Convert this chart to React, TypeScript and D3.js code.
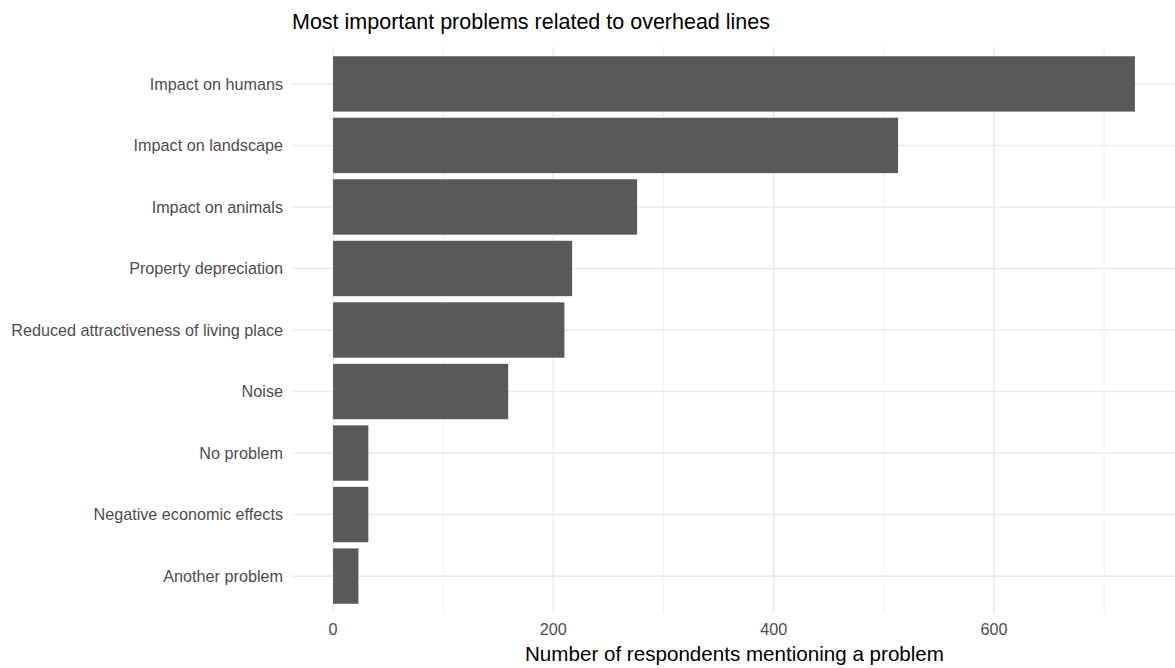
import React from "react";
import * as d3 from "d3";

const categories = [
  "Impact on humans",
  "Impact on landscape",
  "Impact on animals",
  "Property depreciation",
  "Reduced attractiveness of living place",
  "Noise",
  "No problem",
  "Negative economic effects",
  "Another problem",
];
const counts = [728, 513, 276, 217, 210, 159, 32, 32, 23];
const majorTicks = [0, 200, 400, 600];
const minorTicks = [100, 300, 500, 700];
const title = "Most important problems related to overhead lines";
const xTitle = "Number of respondents mentioning a problem";

const W = 1175;
const H = 668;
const panel = { left: 293, right: 1175, top: 47, bottom: 613 };
const FONT = "'Liberation Sans', Arial, sans-serif";

export default function App() {
  const maxV = d3.max(counts) as number;
  const pad = maxV * 0.05;
  const x = d3.scaleLinear().domain([-pad, maxV + pad]).range([panel.left, panel.right]);
  const n = categories.length;
  const step = (panel.bottom - panel.top) / (n - 1 + 1.2);
  const yc = (i: number) => panel.top + step * (0.6 + i);
  const barH = step * 0.9;

  return (
    <svg width={W} height={H} style={{ position: "absolute", left: 0, top: 0, background: "#fff" }} fontFamily={FONT}>
      <rect x={0} y={0} width={W} height={H} fill="#fff" />
      {minorTicks.map((t) => (
        <line key={"mi" + t} x1={x(t)} x2={x(t)} y1={panel.top} y2={panel.bottom} stroke="#f0f0f0" strokeWidth={1} />
      ))}
      {majorTicks.map((t) => (
        <line key={"ma" + t} x1={x(t)} x2={x(t)} y1={panel.top} y2={panel.bottom} stroke="#ebebeb" strokeWidth={1.6} />
      ))}
      {categories.map((c, i) => (
        <line key={"h" + c} x1={panel.left} x2={panel.right} y1={yc(i)} y2={yc(i)} stroke="#ebebeb" strokeWidth={1.6} />
      ))}
      {categories.map((c, i) => (
        <rect key={"b" + c} x={x(0)} y={yc(i) - barH / 2} width={x(counts[i]) - x(0)} height={barH} fill="#595959" />
      ))}
      {categories.map((c, i) => (
        <text key={"l" + c} x={283} y={yc(i)} dy="0.35em" textAnchor="end" fontSize={16.2} fill="#4d4d4d">
          {c}
        </text>
      ))}
      {majorTicks.map((t) => (
        <text key={"t" + t} x={x(t)} y={635} textAnchor="middle" fontSize={16.2} fill="#4d4d4d">
          {t}
        </text>
      ))}
      <text x={(panel.left + panel.right) / 2 + 0.5} y={661} textAnchor="middle" fontSize={20.6} fill="#000">
        {xTitle}
      </text>
      <text x={292} y={29} fontSize={21.5} fill="#000">
        {title}
      </text>
    </svg>
  );
}
